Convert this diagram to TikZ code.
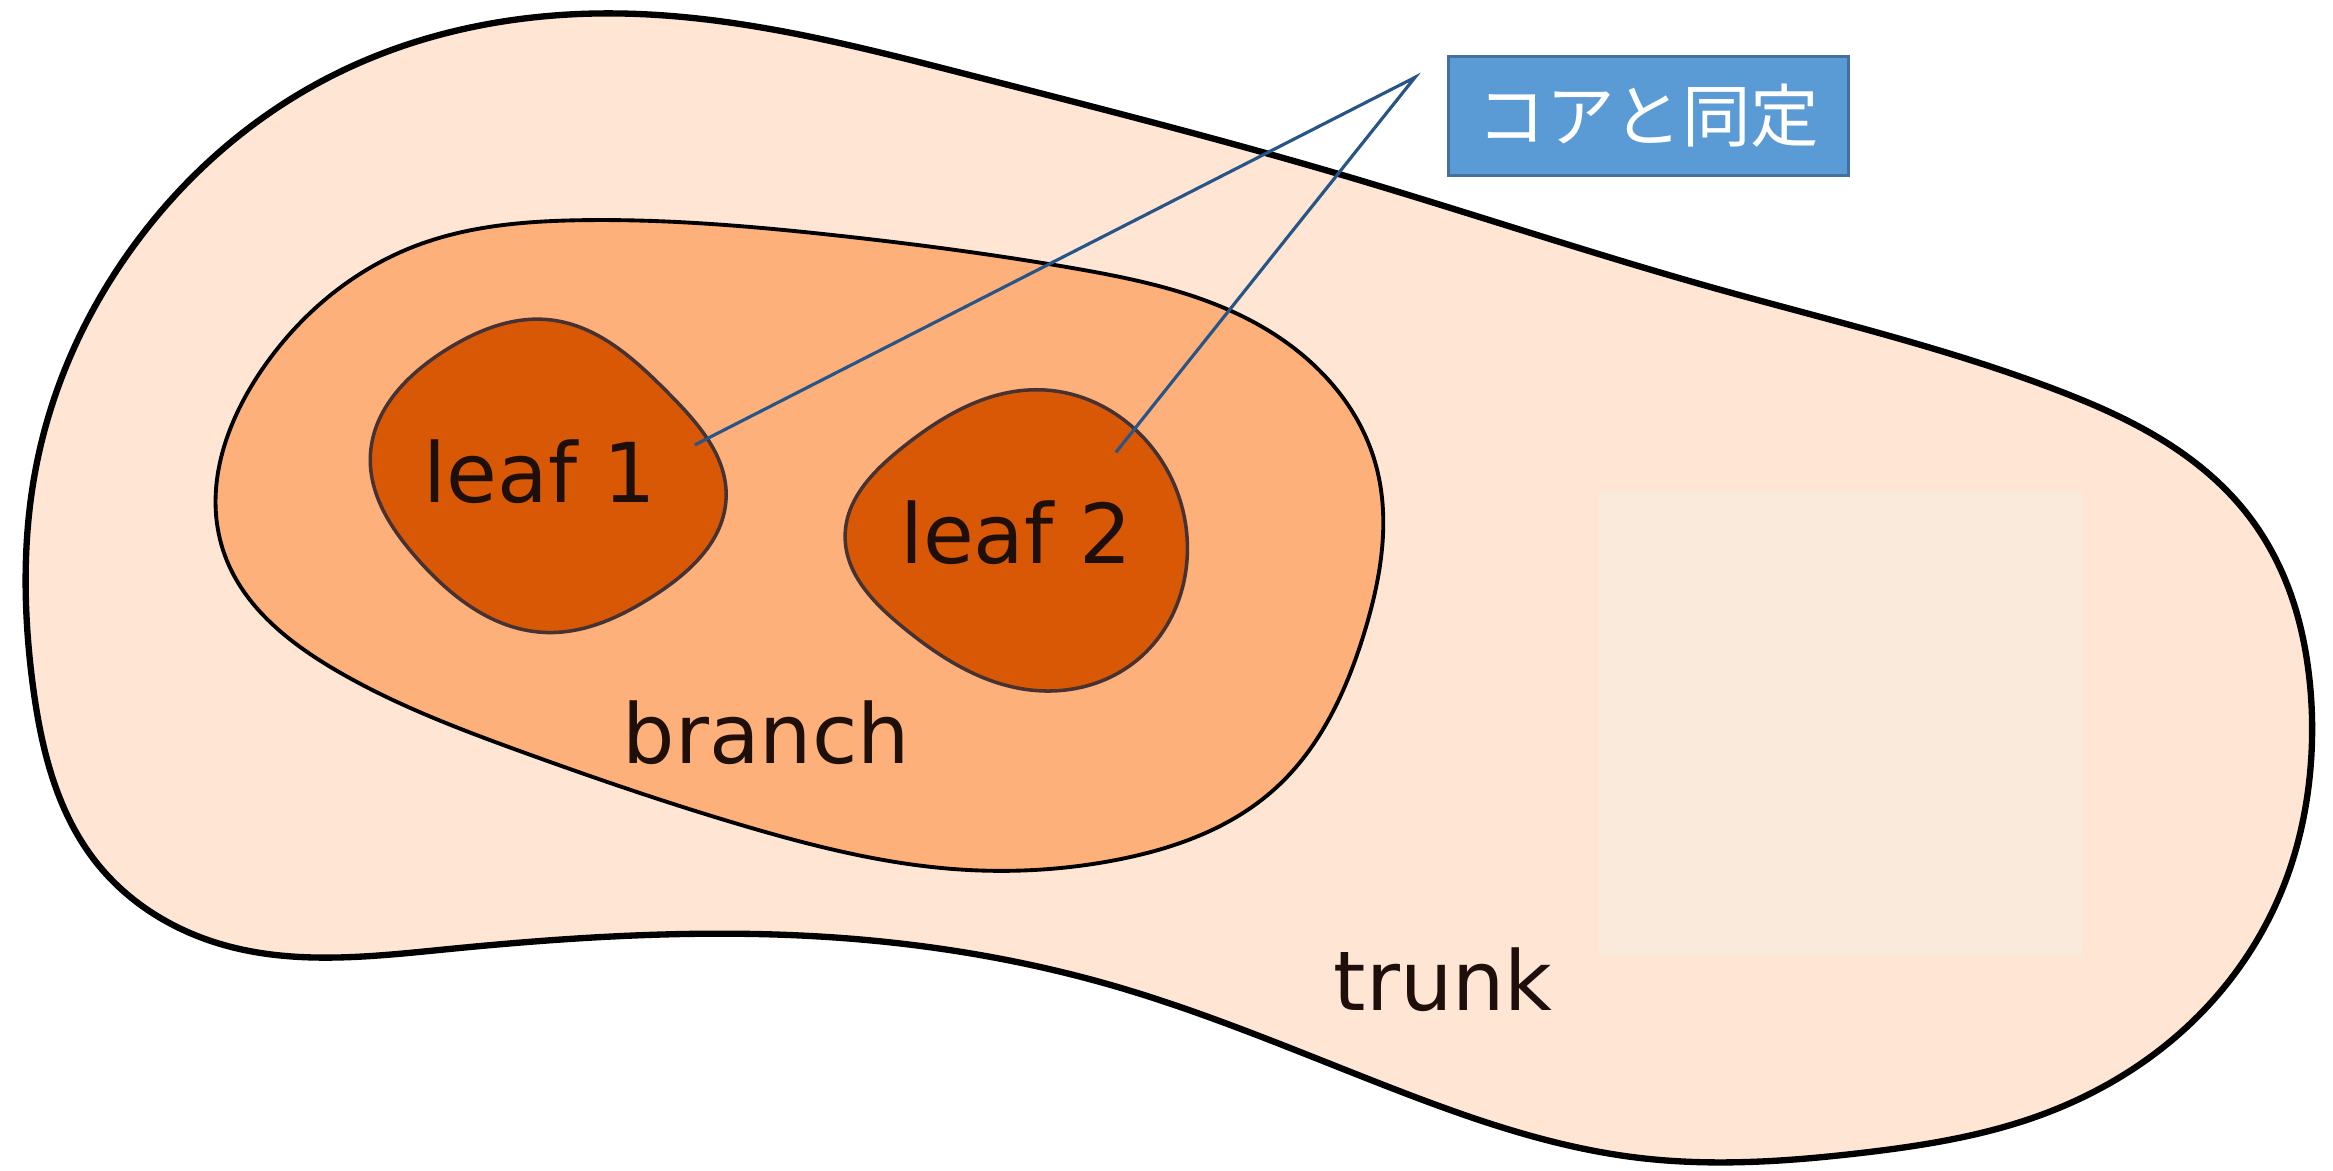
\documentclass[tikz,border=0pt]{standalone}
\usepackage{fontspec}
\usetikzlibrary{hobby}
\setmainfont{DejaVu Sans}
\newfontfamily\jpfont{Noto Sans CJK JP}
\definecolor{trunkfill}{RGB}{254,229,212}
\definecolor{rectfill}{RGB}{250,234,219}
\definecolor{branchfill}{RGB}{253,176,122}
\definecolor{leaffill}{RGB}{216,88,6}
\definecolor{leafedge}{RGB}{70,50,50}
\definecolor{txt}{RGB}{30,15,10}
\definecolor{boxfill}{RGB}{91,155,213}
\definecolor{boxedge}{RGB}{65,113,156}
\definecolor{linecol}{RGB}{40,85,135}
\begin{document}
\begin{tikzpicture}[x=0.014879cm,y=-0.014879cm,
  lbl/.style={font=\fontsize{23.5}{28}\selectfont, text=txt, anchor=base, inner sep=0pt},
  callout/.style={draw=boxedge, fill=boxfill, line width=0.8pt, minimum width=4.0cm, minimum height=1.19cm, text=white, font=\jpfont\fontsize{19.5}{23}\selectfont, inner sep=0pt},
  conn/.style={draw=linecol, line width=0.9pt}]
\useasboundingbox (0,0) rectangle (1568,787);
% trunk
\draw[fill=trunkfill, line width=1.8pt] plot[closed hobby] coordinates {
 (410,9) (650,50) (900,117) (1150,193) (1382,262) (1460,300) (1510,345) (1538,395) (1552,455) (1552,525) (1535,595) (1470,690) (1370,750) (1250,775) (1100,778) (932,730) (750,663) (560,630) (300,638) (150,635) (65,580) (22,460) (25,310) (90,165) (225,50)};
% beige rectangle
\fill[rectfill] (1075,330) rectangle (1400,643);
% branch
\draw[fill=branchfill, line width=1.1pt] plot[closed hobby] coordinates {
 (390,148) (560,158) (720,180) (857,225) (924,310) (917,425) (857,530) (750,578) (640,584) (500,555) (350,505) (225,450) (150,370) (175,250) (280,165)};
% leaves
\draw[fill=leaffill, draw=leafedge, line width=1pt] plot[closed hobby] coordinates {
 (370,215) (450,265) (488,335) (440,400) (365,425) (280,375) (249,305) (300,235)};
\draw[fill=leaffill, draw=leafedge, line width=1pt] plot[closed hobby] coordinates {
 (700,262) (772,298) (798,365) (765,443) (695,464) (605,420) (568,360) (605,302)};
% labels
\node[lbl] (l1) at (363,338) {leaf 1};
\node[lbl] (l2) at (683,379) {leaf 2};
\node[lbl] (br) at (515,513) {branch};
\node[lbl] (tr) at (970,679) {trunk};
% callout
\node[callout] (box) at (1108,78) {コアと同定};
\coordinate (apex) at (951,52);
\coordinate (e1) at (467,299);
\coordinate (e2) at (750,304);
\draw[conn] (e1) -- (apex) -- (e2);
\end{tikzpicture}
\end{document}
